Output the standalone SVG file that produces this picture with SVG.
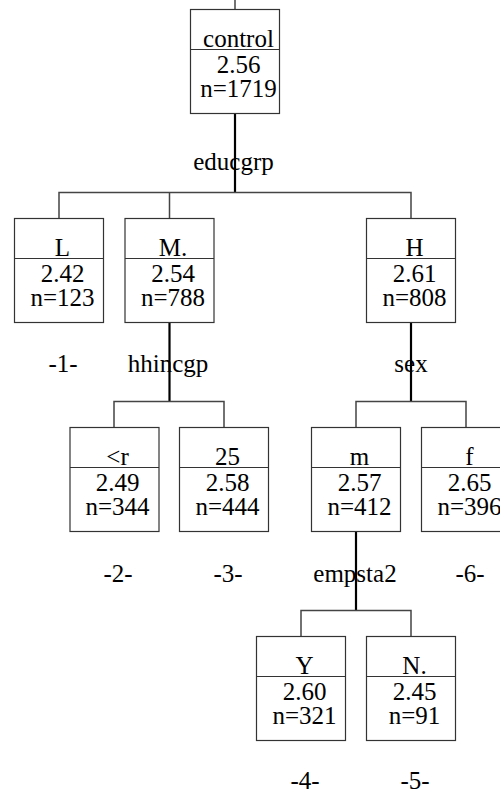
<svg xmlns="http://www.w3.org/2000/svg" width="500" height="792" viewBox="0 0 500 792">
<style>
text{font-family:'Liberation Serif','DejaVu Serif',serif;font-size:25px;fill:#000;text-anchor:middle}
.box{fill:#fff;stroke:#333;stroke-width:1.2}
.sep{stroke:#333;stroke-width:1.2}
.thin{stroke:#444;stroke-width:1.5;fill:none}
.thick{stroke:#000;stroke-width:2.2;fill:none}
</style>
<rect width="500" height="792" fill="#fff"/>
<g id="connectors" font-family="Liberation Serif, DejaVu Serif, serif">
<line class="thin" x1="235" y1="0" x2="235" y2="9.5"/>
<line class="thick" x1="235" y1="113.5" x2="235" y2="192.5"/>
<path class="thin" d="M59,218.5V192.5H411V218.5M169.5,192.5V218.5"/>
<line class="thick" x1="169.5" y1="322.5" x2="169.5" y2="401.5"/>
<path class="thin" d="M114,427.5V401.5H224V427.5"/>
<line class="thick" x1="411" y1="322.5" x2="411" y2="401.5"/>
<path class="thin" d="M356,427.5V401.5H466V427.5"/>
<line class="thick" x1="356" y1="531.5" x2="356" y2="610.5"/>
<path class="thin" d="M301,636.5V610.5H411V636.5"/>
<text x="233.5" y="170">educgrp</text>
<text x="168" y="372">hhincgp</text>
<text x="411" y="372">sex</text>
<text x="355" y="582">empsta2</text>
</g>
<g id="root">
<rect class="box" x="190.5" y="9.5" width="89" height="104"/>
<line class="sep" x1="190.5" y1="49.5" x2="279.5" y2="49.5"/>
<text x="238.5" y="46.5">control</text>
<text x="238.5" y="72.5">2.56</text>
<text x="238.5" y="96.5">n=1719</text>
</g>
<g id="node-L">
<rect class="box" x="14.5" y="218.5" width="89" height="104"/>
<line class="sep" x1="14.5" y1="258.5" x2="103.5" y2="258.5"/>
<text x="62.5" y="255.5">L</text>
<text x="62.5" y="281.5">2.42</text>
<text x="62.5" y="305.5">n=123</text>
<text x="63" y="372">-1-</text>
</g>
<g id="node-M">
<rect class="box" x="125" y="218.5" width="89" height="104"/>
<line class="sep" x1="125" y1="258.5" x2="214" y2="258.5"/>
<text x="173" y="255.5">M.</text>
<text x="173" y="281.5">2.54</text>
<text x="173" y="305.5">n=788</text>
</g>
<g id="node-H">
<rect class="box" x="366.5" y="218.5" width="89" height="104"/>
<line class="sep" x1="366.5" y1="258.5" x2="455.5" y2="258.5"/>
<text x="414.5" y="255.5">H</text>
<text x="414.5" y="281.5">2.61</text>
<text x="414.5" y="305.5">n=808</text>
</g>
<g id="node-lt">
<rect class="box" x="70" y="427.5" width="89" height="104"/>
<line class="sep" x1="70" y1="467.5" x2="159" y2="467.5"/>
<text x="117.5" y="464.5">&lt;r</text>
<text x="117.5" y="490.5">2.49</text>
<text x="117.5" y="514.5">n=344</text>
<text x="118" y="582">-2-</text>
</g>
<g id="node-25">
<rect class="box" x="179.5" y="427.5" width="89" height="104"/>
<line class="sep" x1="179.5" y1="467.5" x2="268.5" y2="467.5"/>
<text x="227.5" y="464.5">25</text>
<text x="227.5" y="490.5">2.58</text>
<text x="227.5" y="514.5">n=444</text>
<text x="228" y="582">-3-</text>
</g>
<g id="node-m">
<rect class="box" x="311.5" y="427.5" width="89" height="104"/>
<line class="sep" x1="311.5" y1="467.5" x2="400.5" y2="467.5"/>
<text x="359.5" y="464.5">m</text>
<text x="359.5" y="490.5">2.57</text>
<text x="359.5" y="514.5">n=412</text>
</g>
<g id="node-f">
<rect class="box" x="421.5" y="427.5" width="89" height="104"/>
<line class="sep" x1="421.5" y1="467.5" x2="510.5" y2="467.5"/>
<text x="469.5" y="464.5">f</text>
<text x="469.5" y="490.5">2.65</text>
<text x="469.5" y="514.5">n=396</text>
<text x="470" y="582">-6-</text>
</g>
<g id="node-Y">
<rect class="box" x="256.5" y="636.5" width="89" height="104"/>
<line class="sep" x1="256.5" y1="676.5" x2="345.5" y2="676.5"/>
<text x="304.5" y="673.5">Y</text>
<text x="304.5" y="699.5">2.60</text>
<text x="304.5" y="723.5">n=321</text>
<text x="305" y="789">-4-</text>
</g>
<g id="node-N">
<rect class="box" x="366.5" y="636.5" width="89" height="104"/>
<line class="sep" x1="366.5" y1="676.5" x2="455.5" y2="676.5"/>
<text x="414.5" y="673.5">N.</text>
<text x="414.5" y="699.5">2.45</text>
<text x="414.5" y="723.5">n=91</text>
<text x="415" y="789">-5-</text>
</g>
</svg>
